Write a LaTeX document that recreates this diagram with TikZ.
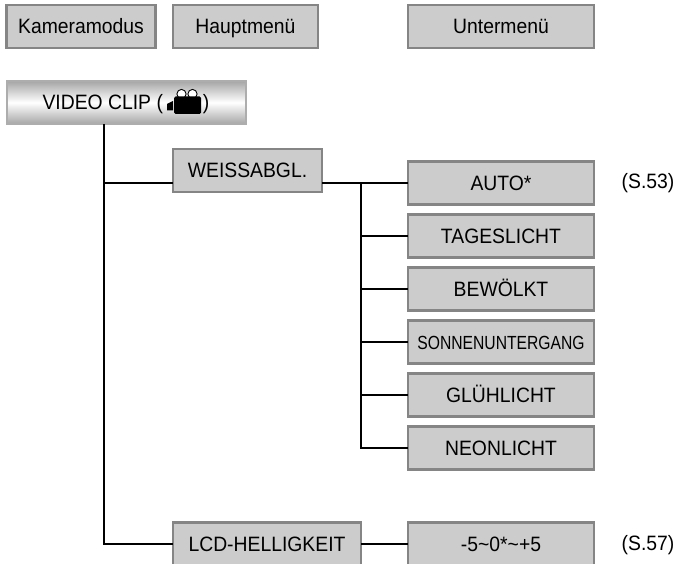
\documentclass[tikz,border=0pt]{standalone}
\usepackage{fontspec}
\setmainfont[FakeStretch=0.93]{Liberation Sans}
\definecolor{boxfill}{HTML}{CCCCCC}
\definecolor{boxline}{HTML}{858585}
\newcommand{\lblsize}{\fontsize{20.8}{21}\selectfont}
\tikzset{
  menubox/.style={draw=boxline,line width=2.2pt,fill=boxfill,inner sep=0pt,outer sep=0pt,
    minimum height=43pt,minimum width=10pt,text=black,font=\lblsize,text height=15pt,text depth=0pt},
  wide/.style={menubox,minimum width=186.5pt},
  link/.style={line width=2.2pt,draw=black,line cap=butt},
  pageref/.style={inner sep=0pt,text=black,font=\lblsize,text height=15pt,text depth=0pt}
}
\begin{document}
\begin{tikzpicture}[x=1pt,y=-1pt]
\useasboundingbox (0,0) rectangle (674,564);
\clip (0,0) rectangle (674,564);
\node[menubox,minimum width=149pt] (kamera) at (81,26.5) {Kameramodus};
\node[menubox,minimum width=145.5pt] (haupt) at (245.5,26.5) {Hauptmenü};
\node[wide] (unter) at (501,26.5) {Untermenü};
\node[inner sep=0pt,outer sep=0pt,minimum width=239pt,minimum height=43pt,draw=black!32,line width=2pt,
  top color=black!35,bottom color=black!35,middle color=white,
  text=black,font=\lblsize,text height=15pt,text depth=0pt] (video) at (126,102.5) {VIDEO CLIP (\hspace{40pt})};
\node[menubox,minimum width=149pt] (weiss) at (247.5,170.5) {WEISSABGL.};
\node[wide] (auto) at (501,183) {AUTO*};
\node[wide] (tages) at (501,236) {TAGESLICHT};
\node[wide] (bew) at (501,289) {BEWÖLKT};
\node[wide] (sonne) at (501,342) {\fontsize{19}{19}\selectfont\addfontfeature{FakeStretch=0.825}SONNENUNTERGANG};
\node[wide] (gluh) at (501,395) {GLÜHLICHT};
\node[wide] (neon) at (501,448) {NEONLICHT};
\node[menubox,minimum width=188pt] (lcd) at (267,544) {LCD-HELLIGKEIT};
\node[wide] (range) at (501,544) {-5\char`\~0*\char`\~+5};
\node[pageref] (p53) at (648,181) {(S.53)};
\node[pageref] (p57) at (648,543) {(S.57)};
% connectors
\coordinate (trunk) at (104,124);
\coordinate (fork) at (361,183);
\draw[link] (trunk) |- (lcd.west);
\draw[link] (trunk |- auto.west) -- (weiss.west |- auto.west);
\draw[link] (weiss.east |- auto.west) -- (auto.west);
\draw[link] (fork) |- (neon.west);
\draw[link] (fork |- tages.west) -- (tages.west);
\draw[link] (fork |- bew.west) -- (bew.west);
\draw[link] (fork |- sonne.west) -- (sonne.west);
\draw[link] (fork |- gluh.west) -- (gluh.west);
\draw[link] (lcd.east) -- (range.west);
% camera icon
\filldraw[fill=white,draw=black,line width=0.9pt] (181.5,94) circle (4.6);
\filldraw[fill=white,draw=black,line width=0.9pt] (192.5,94) circle (4.6);
\fill[black,rounded corners=1.5pt] (174,96.5) rectangle (201,114);
\fill[black] (167,104) -- (173,101) -- (173,110.5) -- (167,110.5) -- cycle;
\end{tikzpicture}
\end{document}
